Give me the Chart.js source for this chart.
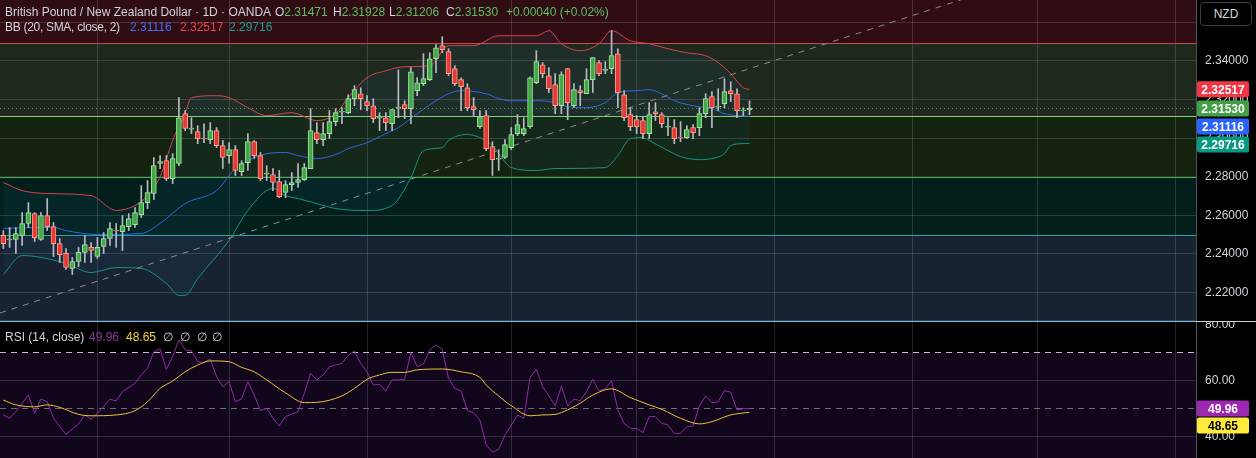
<!DOCTYPE html>
<html>
<head>
<meta charset="utf-8">
<script src="https://cdn.jsdelivr.net/npm/chart.js@4.4.0/dist/chart.umd.min.js"></script>
<style>
  body { margin: 0; background: #000; width: 1256px; height: 458px; overflow: hidden; position: relative;
         font-family: 'Liberation Sans', Arial, sans-serif; }
  canvas { position: absolute; left: 0; }
  #main { top: 0; }
  #rsi { top: 322px; }
  .t { position: absolute; font-size: 12px; line-height: 16px; color: #d1d4dc; white-space: nowrap; }
  .g { color: #5cbf60; }
  #nzd { position: absolute; left: 1200px; top: 2px; width: 50px; height: 22px; border: 1px solid #3a3d45;
         border-radius: 4px; background: #000; color: #d1d4dc; font-size: 12px; line-height: 22px; text-align: center; }
</style>
</head>
<body>
<canvas id="main" width="1256" height="322"></canvas>
<canvas id="rsi" width="1256" height="136"></canvas>

<div class="t" style="left:5px;top:4px">British Pound / New Zealand Dollar · 1D · OANDA</div>
<div class="t" style="left:275px;top:4px">O<span class="g">2.31471</span></div>
<div class="t" style="left:333px;top:4px">H<span class="g">2.31928</span></div>
<div class="t" style="left:389px;top:4px">L<span class="g">2.31206</span></div>
<div class="t" style="left:446px;top:4px">C<span class="g">2.31530</span></div>
<div class="t g" style="left:506px;top:4px">+0.00040 (+0.02%)</div>
<div class="t" style="left:5px;top:19px;letter-spacing:-0.3px">BB (20, SMA, close, 2)</div>
<div class="t" style="left:130px;top:19px;color:#3d6ff0">2.31116</div>
<div class="t" style="left:180px;top:19px;color:#e04552">2.32517</div>
<div class="t" style="left:229px;top:19px;color:#1f9e88">2.29716</div>
<div class="t" style="left:5px;top:329px">RSI (14, close)</div>
<div class="t" style="left:89px;top:329px;color:#8a3a9e">49.96</div>
<div class="t" style="left:126px;top:329px;color:#f5d33c">48.65</div>
<div class="t" style="left:163px;top:329px">∅</div>
<div class="t" style="left:180px;top:329px">∅</div>
<div class="t" style="left:197px;top:329px">∅</div>
<div class="t" style="left:212px;top:329px">∅</div>
<div id="nzd">NZD</div>

<script>
// daily candles, GBP/NZD
const opens = [
  2.2496, 2.2473, 2.2475, 2.2496, 2.2558, 2.2609, 2.2475, 2.2599, 2.2542, 2.2454,
  2.2403, 2.2325, 2.2361, 2.2408, 2.2434, 2.2387, 2.2439, 2.2480, 2.2524, 2.2516,
  2.2542, 2.2552, 2.2604, 2.2666, 2.2713, 2.2868, 2.2883, 2.2790, 2.2868, 2.3126,
  2.3046, 2.3033, 2.3000, 2.2992, 2.3038, 2.2961, 2.2909, 2.2940, 2.2826, 2.2873,
  2.2981, 2.2909, 2.2813, 2.2811, 2.2775, 2.2718, 2.2759, 2.2770, 2.2785, 2.2842,
  2.3028, 2.2992, 2.3023, 2.3085, 2.3134, 2.3131, 2.3204, 2.3229, 2.3188, 2.3167,
  2.3103, 2.3105, 2.3074, 2.3155, 2.3173, 2.3152, 2.3245, 2.3281, 2.3302, 2.3410,
  2.3478, 2.3447, 2.3359, 2.3302, 2.3260, 2.3162, 2.3059, 2.3116, 2.2956, 2.2891,
  2.2899, 2.2950, 2.3023, 2.3023, 2.3059, 2.3286, 2.3379, 2.3322, 2.3276, 2.3167,
  2.3359, 2.3167, 2.3245, 2.3229, 2.3302, 2.3390, 2.3350, 2.3359, 2.3436, 2.3224,
  2.3121, 2.3095, 2.3090, 2.3023, 2.3136, 2.3121, 2.3056, 2.3054, 2.3004, 2.3002,
  2.3054, 2.3054, 2.3126, 2.3214, 2.3160, 2.3178, 2.3245, 2.3229, 2.3141, 2.31471
];
const highs = [
  2.2521, 2.2537, 2.2537, 2.2614, 2.2666, 2.2614, 2.2614, 2.2687, 2.2563, 2.2480,
  2.2428, 2.2382, 2.2434, 2.2496, 2.2459, 2.2485, 2.2511, 2.2563, 2.2558, 2.2599,
  2.2609, 2.2640, 2.2754, 2.2780, 2.2899, 2.2909, 2.2909, 2.2919, 2.3209, 2.3142,
  2.3105, 2.3064, 2.3074, 2.3080, 2.3054, 2.2987, 2.2976, 2.2961, 2.2883, 2.3023,
  2.2987, 2.2925, 2.2857, 2.2842, 2.2832, 2.2780, 2.2821, 2.2868, 2.2868, 2.3152,
  2.3080, 2.3080, 2.3142, 2.3152, 2.3157, 2.3224, 2.3271, 2.3260, 2.3219, 2.3204,
  2.3131, 2.3131, 2.3147, 2.3353, 2.3193, 2.3364, 2.3312, 2.3436, 2.3441, 2.3483,
  2.3524, 2.3462, 2.3374, 2.3312, 2.3281, 2.3209, 2.3142, 2.3142, 2.2981, 2.2940,
  2.2992, 2.3054, 2.3121, 2.3105, 2.3317, 2.3452, 2.3390, 2.3364, 2.3333, 2.3343,
  2.3359, 2.3281, 2.3271, 2.3359, 2.3416, 2.3400, 2.3395, 2.3555, 2.3462, 2.3245,
  2.3157, 2.3116, 2.3111, 2.3183, 2.3183, 2.3131, 2.3105, 2.3095, 2.3085, 2.3064,
  2.3069, 2.3157, 2.3229, 2.3240, 2.3255, 2.3307, 2.3291, 2.3255, 2.3157, 2.31928
];
const lows = [
  2.2428, 2.2434, 2.2403, 2.2444, 2.2537, 2.2465, 2.2470, 2.2521, 2.2387, 2.2356,
  2.2320, 2.2294, 2.2335, 2.2356, 2.2356, 2.2377, 2.2403, 2.2444, 2.2434, 2.2418,
  2.2521, 2.2537, 2.2589, 2.2635, 2.2682, 2.2842, 2.2780, 2.2764, 2.2857, 2.3038,
  2.3023, 2.2971, 2.2976, 2.2971, 2.2950, 2.2842, 2.2868, 2.2806, 2.2806, 2.2832,
  2.2894, 2.2780, 2.2780, 2.2728, 2.2692, 2.2692, 2.2728, 2.2744, 2.2780, 2.2842,
  2.2971, 2.2961, 2.2997, 2.3064, 2.3074, 2.3126, 2.3167, 2.3147, 2.3142, 2.3080,
  2.3038, 2.3038, 2.3038, 2.3105, 2.3100, 2.3074, 2.3219, 2.3271, 2.3297, 2.3338,
  2.3441, 2.3322, 2.3271, 2.3142, 2.3142, 2.3116, 2.3049, 2.2935, 2.2806, 2.2832,
  2.2894, 2.2940, 2.3012, 2.3012, 2.3049, 2.3281, 2.3312, 2.3235, 2.3126, 2.3126,
  2.3095, 2.3157, 2.3167, 2.3229, 2.3235, 2.3322, 2.3333, 2.3333, 2.3157, 2.3090,
  2.3038, 2.3023, 2.2997, 2.2997, 2.3090, 2.3054, 2.3012, 2.2971, 2.2981, 2.2997,
  2.2997, 2.3012, 2.3105, 2.3054, 2.3142, 2.3157, 2.3188, 2.3105, 2.3116, 2.31206
];
const closes = [
  2.2454, 2.2477, 2.2506, 2.2558, 2.2614, 2.2485, 2.2599, 2.2542, 2.2454, 2.2397,
  2.2330, 2.2361, 2.2408, 2.2449, 2.2418, 2.2434, 2.2480, 2.2532, 2.2519, 2.2547,
  2.2583, 2.2614, 2.2666, 2.2718, 2.2857, 2.2878, 2.2790, 2.2894, 2.3105, 2.3049,
  2.3051, 2.2997, 2.2995, 2.3038, 2.2961, 2.2899, 2.2940, 2.2832, 2.2868, 2.2981,
  2.2909, 2.2790, 2.2818, 2.2770, 2.2697, 2.2759, 2.2770, 2.2785, 2.2847, 2.3038,
  2.2992, 2.3023, 2.3085, 2.3131, 2.3139, 2.3204, 2.3250, 2.3204, 2.3167, 2.3100,
  2.3108, 2.3080, 2.3147, 2.3160, 2.3152, 2.3343, 2.3286, 2.3307, 2.3410, 2.3467,
  2.3457, 2.3333, 2.3281, 2.3266, 2.3157, 2.3147, 2.3111, 2.2945, 2.2888, 2.2896,
  2.2966, 2.3018, 2.3069, 2.3049, 2.3312, 2.3395, 2.3333, 2.3255, 2.3167, 2.3328,
  2.3183, 2.3250, 2.3235, 2.3302, 2.3416, 2.3333, 2.3355, 2.3426, 2.3235, 2.3105,
  2.3059, 2.3059, 2.3023, 2.3121, 2.3126, 2.3074, 2.3061, 2.2997, 2.3000, 2.3043,
  2.3028, 2.3126, 2.3204, 2.3157, 2.3165, 2.3240, 2.3229, 2.3142, 2.3145, 2.31530
];

// Bollinger bands (bar index, price)
const bbUpperIdx = [0, 3, 7, 14, 18, 21, 23, 25, 27, 29, 30, 34, 36, 39, 42, 46, 50, 53, 55, 58, 61,
  64, 68, 71, 75, 79, 85, 87, 89, 92, 95, 97, 100, 103, 106, 109, 112, 114, 116, 118, 119];
const bbUpper = [2.2770, 2.2728, 2.2713, 2.2702, 2.2625, 2.2651, 2.2702, 2.2800, 2.2987, 2.3131, 2.3209,
  2.3219, 2.3209, 2.3157, 2.3116, 2.3131, 2.3090, 2.3126, 2.3209, 2.3312, 2.3348, 2.3369, 2.3374, 2.3478,
  2.3478, 2.3529, 2.3529, 2.3555, 2.3488, 2.3452, 2.3488, 2.3555, 2.3503, 2.3488, 2.3462, 2.3441, 2.3426,
  2.3390, 2.3333, 2.3260, 2.32517];
const bbMidIdx = [0, 5, 8, 10, 15, 22, 25, 29, 34, 37, 39, 42, 45, 47, 50, 53, 55, 58, 61, 63, 66, 69,
  71, 73, 77, 79, 81, 85, 88, 90, 93, 96, 98, 101, 103, 105, 107, 110, 113, 115, 117, 119];
const bbMid = [2.2532, 2.2537, 2.2537, 2.2521, 2.2501, 2.2506, 2.2558, 2.2661, 2.2728, 2.2842, 2.2883,
  2.2919, 2.2925, 2.2909, 2.2894, 2.2914, 2.2945, 2.2976, 2.3023, 2.3054, 2.3126, 2.3193, 2.3229, 2.3245,
  2.3229, 2.3204, 2.3193, 2.3193, 2.3183, 2.3162, 2.3157, 2.3183, 2.3235, 2.3245, 2.3250, 2.3229, 2.3193,
  2.3167, 2.3152, 2.3126, 2.3116, 2.31116];
const bbLowIdx = [0, 3, 6, 10, 14, 18, 22, 26, 28, 29, 31, 36, 39, 43, 45, 47, 50, 53, 58, 62, 65, 67,
  70, 71, 74, 76, 78, 79, 81, 85, 88, 96, 98, 100, 102, 103, 106, 108, 111, 113, 115, 116, 118, 119];
const bbLow = [2.2294, 2.2392, 2.2382, 2.2351, 2.2304, 2.2330, 2.2325, 2.2248, 2.2186, 2.2186, 2.2273,
  2.2470, 2.2625, 2.2739, 2.2702, 2.2687, 2.2661, 2.2635, 2.2625, 2.2651, 2.2795, 2.2935, 2.2950, 2.2987,
  2.3018, 2.3002, 2.2961, 2.2920, 2.2847, 2.2832, 2.2842, 2.2847, 2.2909, 2.2997, 2.3002, 2.2987, 2.2935,
  2.2904, 2.2888, 2.2894, 2.2919, 2.2961, 2.2971, 2.29716];

// RSI(14) and its moving average
const rsiIdx = [0, 1, 2, 4, 5, 6, 7, 8, 10, 12, 13, 14, 15, 17, 18, 19,
  21, 22, 23, 24, 25, 26, 27, 28, 29, 30, 31, 32, 33, 34, 35, 36, 37, 38, 39, 40,
  41, 42, 43, 44, 45, 46, 47, 48, 49, 50, 51, 52, 53, 54, 55, 56, 57, 58, 59, 60,
  61, 62, 63, 64, 65, 66, 67, 68, 69, 70, 71, 72, 73, 74, 75, 76, 77, 78, 79, 80,
  81, 82, 83, 84, 85, 86, 87, 88, 89, 90, 91, 92, 93, 94, 95, 96, 97, 98, 99, 100,
  101, 102, 103, 104, 105, 106, 107, 108, 109, 110, 111, 112, 113, 114, 115, 116, 117, 118, 119];
const rsiVal = [47.7, 46.5, 48.9, 54.8, 48.3, 53.4, 52.4, 46.5, 40.8, 44.5, 47.7, 46.1, 48.3, 53.3, 52.7, 56.0,
  59.0, 62.0, 64.4, 70.3, 71.3, 64.0, 68.5, 74.5, 70.9, 70.6, 66.7, 66.4, 67.6, 61.4, 57.8, 59.6, 52.4, 53.4, 59.6, 54.8,
  49.2, 50.1, 46.5, 43.8, 47.1, 48.0, 48.9, 55.4, 62.6, 60.2, 62.0, 64.9, 65.5, 66.1, 69.0, 70.5, 66.1, 63.1, 58.4, 58.6,
  56.3, 60.2, 60.2, 60.4, 70.0, 64.9, 65.9, 70.9, 72.7, 71.1, 60.8, 57.2, 56.3, 49.2, 48.5, 45.9, 37.0, 34.4, 35.4, 40.5,
  44.0, 47.7, 46.5, 61.1, 64.0, 57.8, 54.5, 51.0, 58.0, 50.9, 53.4, 52.8, 56.0, 60.4, 56.3, 57.0, 59.9, 49.5, 44.7, 42.9,
  42.9, 41.4, 47.1, 47.1, 44.7, 44.1, 41.1, 41.1, 43.5, 43.8, 50.9, 54.5, 52.1, 52.4, 56.4, 55.8, 49.5, 49.9, 49.96];
const maIdx = [0, 2, 5, 7, 9, 12, 14, 18, 21, 23, 25, 27, 29, 31, 33, 36, 38, 40, 42, 45, 48, 50, 54, 56, 58,
  60, 62, 64, 66, 70, 73, 76, 77, 79, 81, 84, 86, 88, 90, 92, 94, 97, 100, 103, 105, 108, 111, 113, 116, 119];
const maVal = [53.0, 51.3, 50.6, 51.3, 50.4, 47.9, 47.4, 47.7, 49.2, 52.4, 57.2, 59.8, 63.1, 65.5, 67.0, 66.7,
  64.7, 63.1, 60.2, 55.6, 52.1, 52.2, 54.5, 57.2, 60.4, 62.0, 62.9, 62.9, 63.8, 64.1, 63.1, 61.1, 58.4, 54.5,
  51.0, 47.4, 47.7, 47.9, 49.5, 51.9, 54.8, 57.0, 53.9, 51.3, 49.7, 46.5, 44.5, 45.3, 47.7, 48.65];

// drawn levels / zones and trend line
const zoneLevels = [2.3714, 2.3493, 2.3112, 2.2800, 2.2497, 2.2055];
const zoneFills = ['#300d13', '#1e281d', '#14230f', '#031f1b', '#172330'];
const zoneLines = ['#e0404c', '#86d27a', '#4caf50', '#26a69a', '#90c6f0'];
const trendIdx = [-0.53, 170];
const trendPrice = [2.2095, 2.3898];

const priceTicks = [2.22, 2.24, 2.26, 2.28, 2.30, 2.32, 2.34, 2.36];
const rsiTicks = [40, 60, 80];
const monthStarts = [15, 36, 58, 81, 101, 123, 145, 165, 187];

const X_MIN = -0.53, X_MAX = 190.2;
const GRID = 'rgba(255,255,255,0.14)';
const AXIS_TXT = '#d1d4dc';
const FONT = { family: "'Liberation Sans', Arial, sans-serif", size: 12 };

const pts = (xs, ys) => xs.map((x, i) => ({ x, y: ys[i] }));
const up = opens.map((o, i) => closes[i] >= o);

function xAxis() {
  return {
    type: 'linear', min: X_MIN, max: X_MAX, offset: false,
    grid: { color: GRID, drawTicks: false, offset: false },
    border: { display: false },
    ticks: { display: false },
    afterBuildTicks: s => { s.ticks = monthStarts.map(v => ({ value: v })); },
    afterFit: s => { s.height = 0; s.paddingLeft = 0; s.paddingRight = 0; }
  };
}

function drawTag(ctx, x, y, text, bg, fg) {
  ctx.fillStyle = bg;
  ctx.beginPath();
  ctx.roundRect(x, y - 8, 52, 16, 2);
  ctx.fill();
  ctx.fillStyle = fg;
  ctx.font = "bold 12px 'Liberation Sans', Arial, sans-serif";
  ctx.textAlign = 'center';
  ctx.textBaseline = 'middle';
  ctx.fillText(text, x + 26, y + 1);
}

const zonePlugin = {
  id: 'zones',
  beforeDraw(chart) {
    const { ctx, chartArea: a, scales: { y } } = chart;
    ctx.save();
    for (let i = 0; i < zoneFills.length; i++) {
      const top = y.getPixelForValue(zoneLevels[i]);
      const bot = y.getPixelForValue(zoneLevels[i + 1]);
      ctx.fillStyle = zoneFills[i];
      ctx.fillRect(a.left, top, a.right - a.left, bot - top);
    }
    ctx.restore();
  },
  beforeDatasetsDraw(chart) {
    const { ctx, chartArea: a, scales: { y } } = chart;
    ctx.save();
    zoneLevels.slice(1).forEach((lv, i) => {
      const py = Math.round(y.getPixelForValue(lv)) + 0.5;
      ctx.strokeStyle = zoneLines[i];
      ctx.lineWidth = i === 4 ? 1.5 : 1;
      ctx.beginPath();
      ctx.moveTo(a.left, py);
      ctx.lineTo(a.right, py);
      ctx.stroke();
    });
    ctx.restore();
  },
  afterDraw(chart) {
    const { ctx, chartArea: a, scales: { y } } = chart;
    const tags = [
      { v: bbUpper[bbUpper.length - 1], c: '#f23645' },
      { v: closes[closes.length - 1], c: '#43a047' },
      { v: bbMid[bbMid.length - 1], c: '#2962ff' },
      { v: bbLow[bbLow.length - 1], c: '#089981' }
    ].map(t => ({ ...t, py: y.getPixelForValue(t.v) })).sort((p, q) => p.py - q.py);
    let last = -100;
    tags.forEach(t => {
      const py = Math.max(t.py, last + 18);
      last = py;
      drawTag(ctx, a.right + 1, py, t.v.toFixed(5), t.c, '#fff');
    });
    // pane separator
    ctx.save();
    ctx.fillStyle = '#7fb4e0';
    ctx.fillRect(a.left, chart.height - 1, a.right - a.left, 1);
    ctx.fillStyle = '#d0d0d0';
    ctx.fillRect(a.right, chart.height - 1, chart.width - a.right, 1);
    ctx.restore();
  }
};

new Chart(document.getElementById('main'), {
  type: 'bar',
  data: {
    datasets: [
      {
        type: 'bar', label: 'body',
        data: opens.map((o, i) => ({ x: i, y: [o, closes[i]] })),
        backgroundColor: up.map(u => u ? '#43a848' : '#e53935'),
        borderColor: up.map(u => u ? '#a5e3a0' : '#ff9c8a'),
        borderWidth: 1, borderSkipped: false, barThickness: 5, grouped: false, order: 1
      },
      {
        type: 'bar', label: 'wick',
        data: lows.map((l, i) => ({ x: i, y: [l, highs[i]] })),
        backgroundColor: '#b8bbc3', barThickness: 1, grouped: false, order: 2
      },
      {
        type: 'line', label: 'upper', data: pts(bbUpperIdx, bbUpper),
        borderColor: '#d8434e', borderWidth: 1, pointRadius: 0, cubicInterpolationMode: 'monotone',
        fill: { target: 4 }, backgroundColor: 'rgba(33,150,243,0.06)', order: 5
      },
      {
        type: 'line', label: 'basis', data: pts(bbMidIdx, bbMid),
        borderColor: '#2f63e6', borderWidth: 1, pointRadius: 0, cubicInterpolationMode: 'monotone', order: 5
      },
      {
        type: 'line', label: 'lower', data: pts(bbLowIdx, bbLow),
        borderColor: '#15957f', borderWidth: 1, pointRadius: 0, cubicInterpolationMode: 'monotone', order: 5
      },
      {
        type: 'line', label: 'trend', data: pts(trendIdx, trendPrice),
        borderColor: '#8a8d96', borderWidth: 1, borderDash: [6, 6], pointRadius: 0, order: 4
      },
      {
        type: 'line', label: 'last', data: pts([X_MIN, X_MAX], [closes[119], closes[119]]),
        borderColor: '#4caf50', borderWidth: 1, borderDash: [1, 3], pointRadius: 0, order: 4
      }
    ]
  },
  options: {
    responsive: false, animation: false, devicePixelRatio: 1, events: [],
    layout: { padding: 0 },
    plugins: { legend: { display: false }, tooltip: { enabled: false } },
    scales: {
      x: xAxis(),
      y: {
        position: 'right', min: 2.20482, max: 2.37140,
        grid: { color: GRID, drawTicks: false },
        border: { display: true, color: '#50535e' },
        ticks: { color: AXIS_TXT, font: FONT, padding: 9, callback: v => v.toFixed(5) },
        afterBuildTicks: s => { s.ticks = priceTicks.map(v => ({ value: v })); },
        afterFit: s => { s.width = 60; s.paddingTop = 0; s.paddingBottom = 0; }
      }
    }
  },
  plugins: [zonePlugin]
});

const rsiPlugin = {
  id: 'rsiBands',
  beforeDraw(chart) {
    const { ctx, chartArea: a, scales: { y } } = chart;
    const top = y.getPixelForValue(70);
    ctx.save();
    ctx.fillStyle = '#12061c';
    ctx.fillRect(a.left, top, a.right - a.left, a.bottom - top);
    ctx.restore();
  },
  beforeDatasetsDraw(chart) {
    const { ctx, chartArea: a, scales: { y } } = chart;
    ctx.save();
    ctx.setLineDash([6, 5]);
    [[70, 'rgba(225,225,232,0.85)'], [50, 'rgba(150,150,160,0.7)'], [30, 'rgba(225,225,232,0.85)']].forEach(([lv, c]) => {
      const py = Math.round(y.getPixelForValue(lv)) + 0.5;
      ctx.strokeStyle = c;
      ctx.lineWidth = 1;
      ctx.beginPath();
      ctx.moveTo(a.left, py);
      ctx.lineTo(a.right, py);
      ctx.stroke();
    });
    ctx.restore();
  },
  afterDraw(chart) {
    const { ctx, chartArea: a, scales: { y } } = chart;
    const r = rsiVal[rsiVal.length - 1], m = maVal[maVal.length - 1];
    const pr = y.getPixelForValue(r);
    const pm = Math.max(y.getPixelForValue(m), pr + 17);
    drawTag(ctx, a.right + 1, pr, r.toFixed(2), '#9c27b0', '#fff');
    drawTag(ctx, a.right + 1, pm, m.toFixed(2), '#ffeb3b', '#000');
  }
};

new Chart(document.getElementById('rsi'), {
  type: 'line',
  data: {
    datasets: [
      {
        label: 'RSI', data: pts(rsiIdx, rsiVal),
        borderColor: '#8e2aa6', borderWidth: 1, pointRadius: 0, tension: 0, order: 2
      },
      {
        label: 'MA', data: pts(maIdx, maVal),
        borderColor: '#e8c53a', borderWidth: 1, pointRadius: 0, cubicInterpolationMode: 'monotone', order: 1
      }
    ]
  },
  options: {
    responsive: false, animation: false, devicePixelRatio: 1, events: [],
    layout: { padding: 0 },
    plugins: { legend: { display: false }, tooltip: { enabled: false } },
    scales: {
      x: xAxis(),
      y: {
        position: 'right', min: 32.32, max: 80.89,
        grid: { color: c => c.tick && c.tick.value === 80 ? 'rgba(0,0,0,0)' : GRID, drawTicks: false },
        border: { display: true, color: '#50535e' },
        ticks: { color: AXIS_TXT, font: FONT, padding: 9, callback: v => v.toFixed(2) },
        afterBuildTicks: s => { s.ticks = rsiTicks.map(v => ({ value: v })); },
        afterFit: s => { s.width = 60; s.paddingTop = 0; s.paddingBottom = 0; }
      }
    }
  },
  plugins: [rsiPlugin]
});
</script>
</body>
</html>
